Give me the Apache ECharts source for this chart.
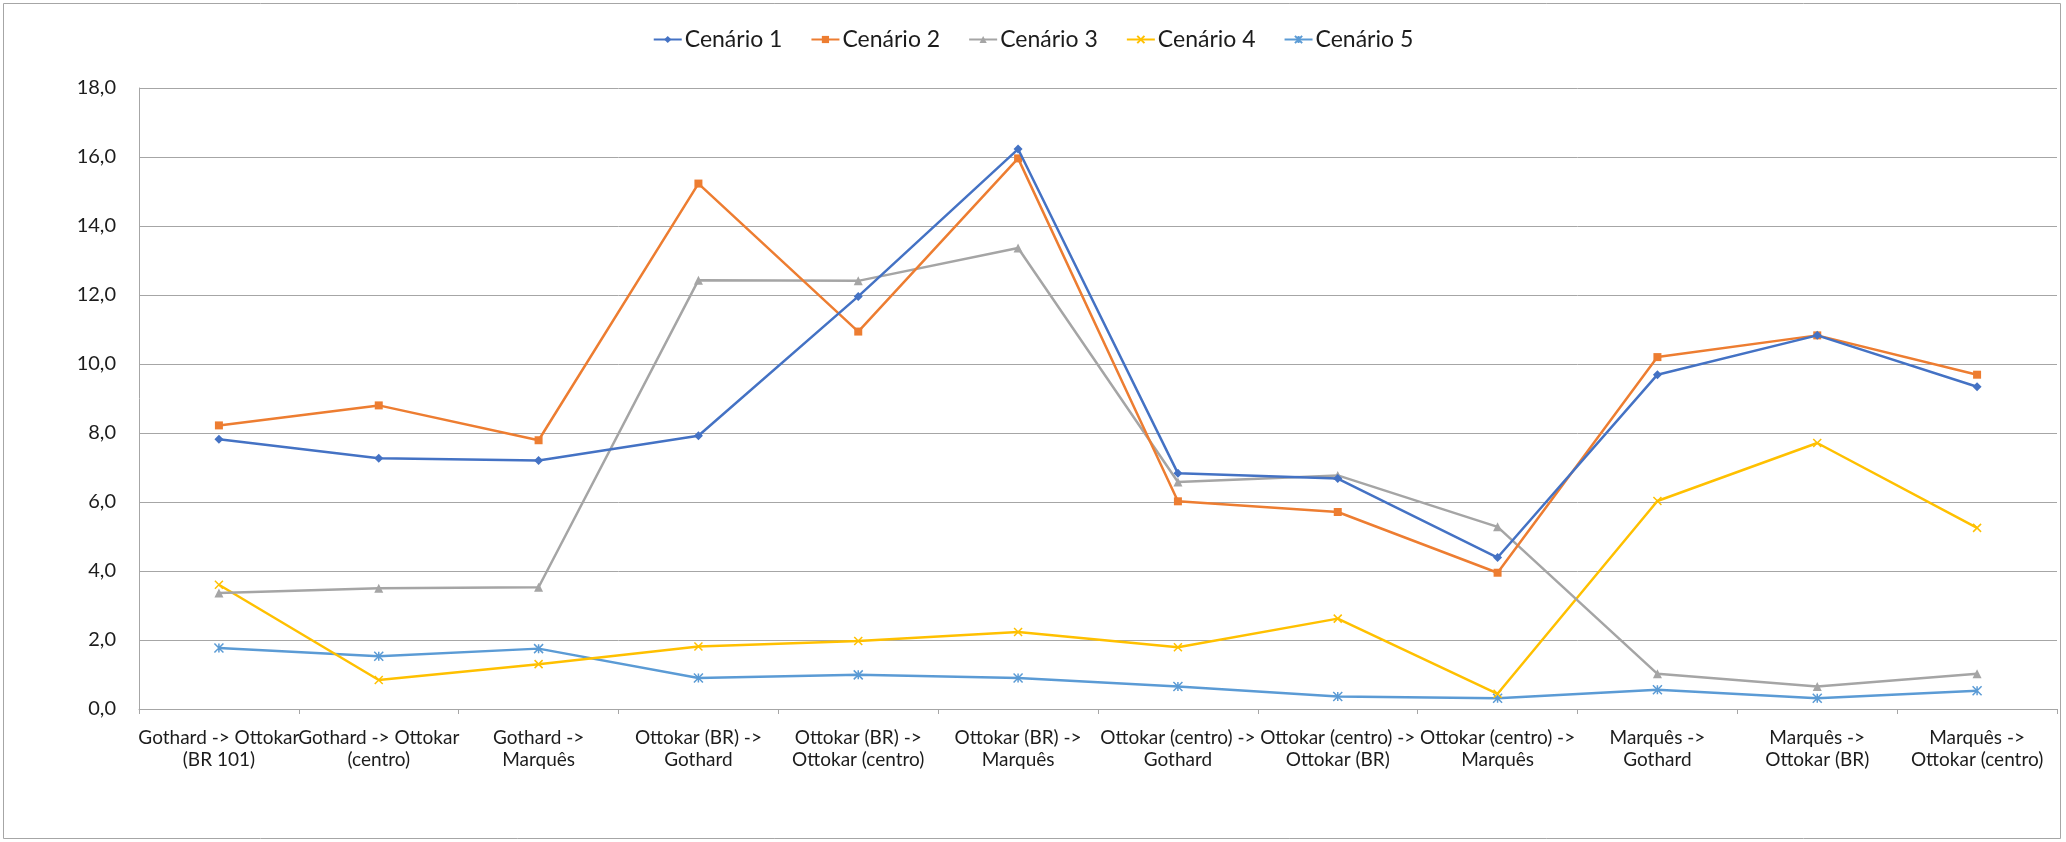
<!DOCTYPE html>
<html>
<head>
<meta charset="utf-8">
<title>Cenários</title>
<script src="https://cdn.jsdelivr.net/npm/echarts@6/dist/echarts.min.js"></script>
<style>
  html, body { margin: 0; padding: 0; background: #ffffff; }
  #chart { width: 2066px; height: 842px; }
</style>
</head>
<body>
<div id="chart"></div>
<script>
// Trechos (origem -> destino)
const categories = [
  'Gothard -> Ottokar\n(BR 101)',
  'Gothard -> Ottokar\n(centro)',
  'Gothard ->\nMarquês',
  'Ottokar (BR) ->\nGothard',
  'Ottokar (BR) ->\nOttokar (centro)',
  'Ottokar (BR) ->\nMarquês',
  'Ottokar (centro) ->\nGothard',
  'Ottokar (centro) ->\nOttokar (BR)',
  'Ottokar (centro) ->\nMarquês',
  'Marquês ->\nGothard',
  'Marquês ->\nOttokar (BR)',
  'Marquês ->\nOttokar (centro)'
];

const seriesNames = ['Cenário 1', 'Cenário 2', 'Cenário 3', 'Cenário 4', 'Cenário 5'];

const cenario1 = [7.82, 7.27, 7.20, 7.92, 11.96, 16.23, 6.83, 6.68, 4.39, 9.69, 10.83, 9.34];
const cenario2 = [8.22, 8.80, 7.79, 15.23, 10.94, 15.96, 6.02, 5.71, 3.95, 10.20, 10.83, 9.69];
const cenario3 = [3.36, 3.50, 3.53, 12.43, 12.41, 13.36, 6.58, 6.77, 5.28, 1.02, 0.65, 1.02];
const cenario4 = [3.60, 0.84, 1.30, 1.81, 1.97, 2.23, 1.79, 2.62, 0.44, 6.03, 7.71, 5.25];
const cenario5 = [1.77, 1.53, 1.75, 0.90, 0.99, 0.90, 0.65, 0.36, 0.31, 0.56, 0.31, 0.53];

const yTicks = { min: 0, max: 18, interval: 2 };

const FONT = 'Lato, "Open Sans", sans-serif';
const TEXT = '#1c1c1c';
const GRID = '#a6a6a6';

const styles = [
  { color: '#4472C4', symbol: 'diamond', size: 9 },
  { color: '#ED7D31', symbol: 'rect', size: 8 },
  { color: '#A5A5A5', symbol: 'triangle', size: 9 },
  { color: '#FFC000', symbol: 'path://M0,0L10,10M10,0L0,10', size: 8 },
  { color: '#5B9BD5', symbol: 'path://M0,0L10,10M10,0L0,10M5,0L5,10', size: 9 }
];

const values = [cenario1, cenario2, cenario3, cenario4, cenario5];

const series = values.map((data, i) => {
  const s = styles[i];
  const stroked = s.symbol.startsWith('path://');
  return {
    name: seriesNames[i],
    type: 'line',
    data: data,
    symbol: s.symbol,
    symbolSize: s.size,
    showAllSymbol: true,
    lineStyle: { color: s.color, width: 2.5 },
    itemStyle: stroked
      ? { color: s.color, borderColor: s.color, borderWidth: 1.5 }
      : { color: s.color, borderWidth: 0 },
    emphasis: { disabled: true },
    z: 10 - i
  };
});

const chart = echarts.init(document.getElementById('chart'), null, { renderer: 'canvas' });

chart.setOption({
  backgroundColor: '#ffffff',
  animation: false,
  textStyle: { fontFamily: FONT },
  graphic: [{
    type: 'rect',
    shape: { x: 3.5, y: 3.5, width: 2057, height: 835 },
    style: { fill: 'none', stroke: '#a6a6a6', lineWidth: 1 },
    silent: true
  }],
  legend: {
    data: seriesNames,
    top: 23,
    left: 'center',
    itemWidth: 28,
    itemHeight: 9,
    itemGap: 28,
    textStyle: { fontFamily: FONT, fontSize: 23, color: TEXT, padding: [0, 0, 0, -2] }
  },
  grid: { left: 139, right: 9, top: 88, bottom: 133, containLabel: false },
  xAxis: {
    type: 'category',
    data: categories,
    boundaryGap: true,
    axisLine: { show: true, lineStyle: { color: GRID, width: 1 } },
    axisTick: { show: true, length: 5, lineStyle: { color: GRID } },
    axisLabel: {
      interval: 0,
      margin: 18,
      fontFamily: FONT,
      fontSize: 19,
      lineHeight: 22,
      color: TEXT
    },
    splitLine: { show: false }
  },
  yAxis: {
    type: 'value',
    min: yTicks.min,
    max: yTicks.max,
    interval: yTicks.interval,
    axisLine: { show: true, lineStyle: { color: GRID, width: 1 } },
    axisTick: { show: false },
    axisLabel: {
      margin: 23,
      fontFamily: FONT,
      fontSize: 20,
      color: TEXT,
      formatter: v => v.toFixed(1).replace('.', ',')
    },
    splitLine: { show: true, lineStyle: { color: GRID, width: 1 } }
  },
  series: series
});
</script>
</body>
</html>
